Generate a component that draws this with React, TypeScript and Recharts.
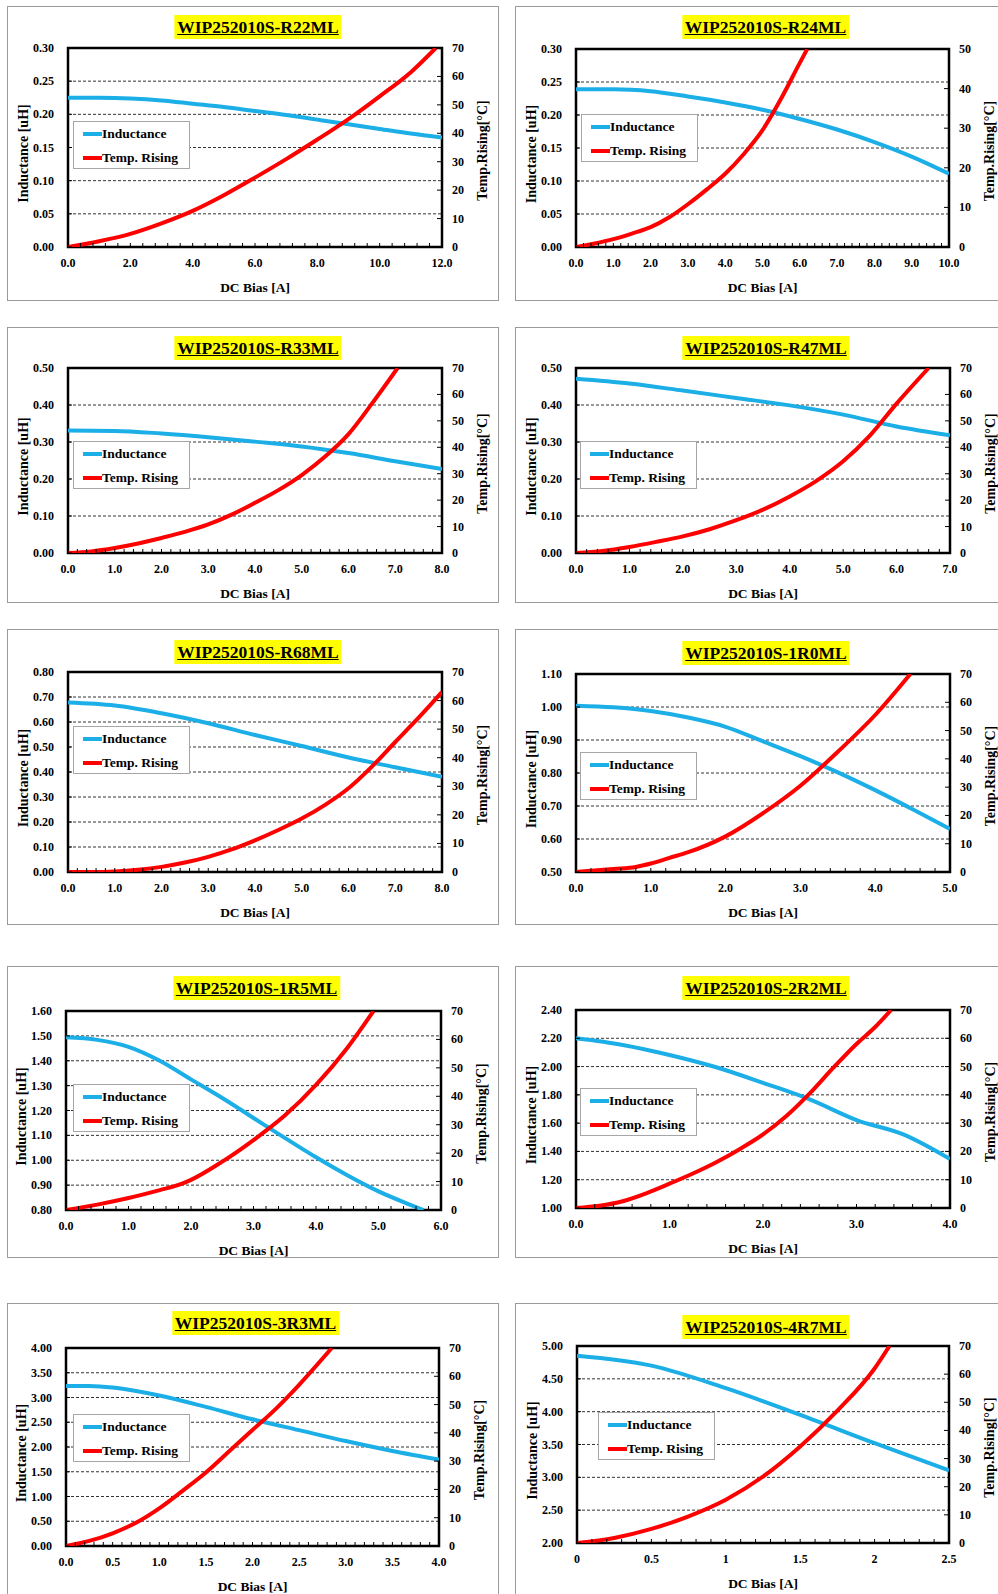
import React from "react";
import { LineChart, Line, XAxis, YAxis, CartesianGrid, ReferenceArea, Legend } from "recharts";

const BLUE = "#1caee6";
const RED = "#ff0000";
const FONT = '"Liberation Serif", "Times New Roman", serif';

// shared right-axis ticks
const temp70Ticks = [0, 10, 20, 30, 40, 50, 60, 70];
const temp50Ticks = [0, 10, 20, 30, 40, 50];

// WIP252010S-R22ML
const r22BiasTicks = [0, 2, 4, 6, 8, 10, 12];
const r22IndTicks = [0, 0.05, 0.1, 0.15, 0.2, 0.25, 0.3];
const r22IndBias = [0, 1, 2, 3, 4, 5, 6, 7, 8, 9, 10, 11, 12];
const r22Ind = [0.225, 0.225, 0.224, 0.221, 0.216, 0.211, 0.205, 0.199, 0.192, 0.185, 0.178, 0.171, 0.165];
const r22TempBias = [0, 1, 2, 3, 4, 5, 6, 7, 8, 9, 10, 11, 11.8];
const r22Temp = [0, 2, 4.6, 8.3, 12.7, 18.2, 24.4, 30.9, 37.8, 45, 53, 61.5, 70];

// WIP252010S-R24ML
const r24BiasTicks = [0, 1, 2, 3, 4, 5, 6, 7, 8, 9, 10];
const r24IndTicks = [0, 0.05, 0.1, 0.15, 0.2, 0.25, 0.3];
const r24IndBias = [0, 1, 2, 3, 4, 5, 6, 7, 8, 9, 10];
const r24Ind = [0.239, 0.239, 0.236, 0.228, 0.219, 0.208, 0.194, 0.178, 0.159, 0.137, 0.111];
const r24TempBias = [0, 0.5, 1, 1.5, 2, 2.5, 3, 3.5, 4, 4.5, 5, 5.5, 6, 6.2];
const r24Temp = [0, 0.9, 2, 3.4, 5, 7.5, 10.8, 14.5, 18.5, 23.5, 29.5, 37.5, 46.5, 50];

// WIP252010S-R33ML
const r33BiasTicks = [0, 1, 2, 3, 4, 5, 6, 7, 8];
const r33IndTicks = [0, 0.1, 0.2, 0.3, 0.4, 0.5];
const r33IndBias = [0, 1, 2, 3, 4, 5, 6, 7, 8];
const r33Ind = [0.331, 0.33, 0.323, 0.313, 0.301, 0.288, 0.27, 0.248, 0.227];
const r33TempBias = [0, 0.5, 1, 1.5, 2, 2.5, 3, 3.5, 4, 4.5, 5, 5.5, 6, 6.5, 7.05];
const r33Temp = [0, 0.6, 1.9, 3.6, 5.7, 8, 10.8, 14.5, 19, 23.8, 29.5, 36.5, 45, 56.5, 70];

// WIP252010S-R47ML
const r47BiasTicks = [0, 1, 2, 3, 4, 5, 6, 7];
const r47IndTicks = [0, 0.1, 0.2, 0.3, 0.4, 0.5];
const r47IndBias = [0, 1, 2, 3, 4, 5, 6, 7];
const r47Ind = [0.471, 0.458, 0.439, 0.419, 0.399, 0.374, 0.342, 0.318];
const r47TempBias = [0, 0.5, 1, 1.5, 2, 2.5, 3, 3.5, 4, 4.5, 5, 5.5, 6, 6.6];
const r47Temp = [0, 0.8, 2.3, 4.2, 6.3, 9, 12.4, 16.4, 21.4, 27.3, 34.7, 44.4, 56.5, 70];

// WIP252010S-R68ML
const r68BiasTicks = [0, 1, 2, 3, 4, 5, 6, 7, 8];
const r68IndTicks = [0, 0.1, 0.2, 0.3, 0.4, 0.5, 0.6, 0.7, 0.8];
const r68IndBias = [0, 1, 2, 3, 4, 5, 6, 7, 8];
const r68Ind = [0.678, 0.666, 0.635, 0.595, 0.548, 0.504, 0.458, 0.419, 0.381];
const r68TempBias = [0, 0.5, 1, 1.5, 2, 2.5, 3, 3.5, 4, 4.5, 5, 5.5, 6, 6.5, 7, 7.5, 8];
const r68Temp = [0, 0, 0.2, 0.8, 1.8, 3.3, 5.3, 7.9, 11.1, 14.7, 18.7, 23.5, 29.3, 36.9, 45.5, 54, 63];

// WIP252010S-1R0ML
const x1r0BiasTicks = [0, 1, 2, 3, 4, 5];
const x1r0IndTicks = [0.5, 0.6, 0.7, 0.8, 0.9, 1.0, 1.1];
const x1r0IndBias = [0, 0.5, 1, 1.5, 2, 2.5, 3, 3.5, 4, 4.5, 5];
const x1r0Ind = [1.004, 0.999, 0.988, 0.968, 0.94, 0.896, 0.851, 0.802, 0.748, 0.69, 0.63];
const x1r0TempBias = [0, 0.5, 0.8, 1, 1.25, 1.5, 2, 2.5, 3, 3.5, 4, 4.47];
const x1r0Temp = [0, 1.1, 1.8, 3, 5, 7, 12.6, 20.8, 30.5, 42.5, 55.5, 70];

// WIP252010S-1R5ML
const x1r5BiasTicks = [0, 1, 2, 3, 4, 5, 6];
const x1r5IndTicks = [0.8, 0.9, 1.0, 1.1, 1.2, 1.3, 1.4, 1.5, 1.6];
const x1r5IndBias = [0, 0.5, 1, 1.5, 2, 2.5, 3, 3.5, 4, 4.5, 5, 5.5, 5.72];
const x1r5Ind = [1.494, 1.484, 1.456, 1.4, 1.325, 1.25, 1.17, 1.09, 1.012, 0.94, 0.875, 0.822, 0.8];
const x1r5TempBias = [0, 0.5, 1, 1.5, 1.8, 2, 2.5, 3, 3.5, 4, 4.5, 4.92];
const x1r5Temp = [0, 1.9, 4.2, 7, 8.8, 10.6, 17, 24.6, 33.2, 44, 57, 70];

// WIP252010S-2R2ML
const x2r2BiasTicks = [0, 1, 2, 3, 4];
const x2r2IndTicks = [1.0, 1.2, 1.4, 1.6, 1.8, 2.0, 2.2, 2.4];
const x2r2IndBias = [0, 0.5, 1, 1.5, 2, 2.5, 3, 3.5, 4];
const x2r2Ind = [2.2, 2.153, 2.082, 1.995, 1.885, 1.768, 1.622, 1.52, 1.346];
const x2r2TempBias = [0, 0.25, 0.5, 0.75, 1, 1.25, 1.5, 1.75, 2, 2.25, 2.5, 2.75, 3, 3.2, 3.37];
const x2r2Temp = [0, 0.8, 2.4, 5.2, 8.6, 12.2, 16.2, 20.8, 26, 32.5, 40.5, 49.5, 58, 64, 70];

// WIP252010S-3R3ML
const x3r3BiasTicks = [0, 0.5, 1, 1.5, 2, 2.5, 3, 3.5, 4];
const x3r3IndTicks = [0, 0.5, 1, 1.5, 2, 2.5, 3, 3.5, 4];
const x3r3IndBias = [0, 0.25, 0.5, 0.75, 1, 1.5, 2, 2.5, 3, 3.5, 4];
const x3r3Ind = [3.234, 3.232, 3.2, 3.13, 3.04, 2.81, 2.56, 2.34, 2.12, 1.92, 1.748];
const x3r3TempBias = [0, 0.25, 0.5, 0.75, 1, 1.25, 1.5, 1.75, 2, 2.25, 2.5, 2.85];
const x3r3Temp = [0, 1.8, 4.5, 8.2, 13.3, 19.5, 26, 33.5, 41, 48.5, 57, 70];

// WIP252010S-4R7ML
const x4r7BiasTicks = [0, 0.5, 1, 1.5, 2, 2.5];
const x4r7IndTicks = [2, 2.5, 3, 3.5, 4, 4.5, 5];
const x4r7IndBias = [0, 0.5, 1, 1.5, 2, 2.5];
const x4r7Ind = [4.853, 4.701, 4.357, 3.951, 3.52, 3.105];
const x4r7TempBias = [0, 0.25, 0.5, 0.75, 1, 1.25, 1.5, 1.75, 2, 2.1];
const x4r7Temp = [0, 1.8, 5, 9.5, 15.4, 23.6, 34.3, 47, 62, 70];

const panels = [
  { title: "WIP252010S-R22ML", biasTicks: r22BiasTicks, indTicks: r22IndTicks, tempTicks: temp70Ticks, indBias: r22IndBias, ind: r22Ind, tempBias: r22TempBias, temp: r22Temp, xDigits: 1 },
  { title: "WIP252010S-R24ML", biasTicks: r24BiasTicks, indTicks: r24IndTicks, tempTicks: temp50Ticks, indBias: r24IndBias, ind: r24Ind, tempBias: r24TempBias, temp: r24Temp, xDigits: 1 },
  { title: "WIP252010S-R33ML", biasTicks: r33BiasTicks, indTicks: r33IndTicks, tempTicks: temp70Ticks, indBias: r33IndBias, ind: r33Ind, tempBias: r33TempBias, temp: r33Temp, xDigits: 1 },
  { title: "WIP252010S-R47ML", biasTicks: r47BiasTicks, indTicks: r47IndTicks, tempTicks: temp70Ticks, indBias: r47IndBias, ind: r47Ind, tempBias: r47TempBias, temp: r47Temp, xDigits: 1 },
  { title: "WIP252010S-R68ML", biasTicks: r68BiasTicks, indTicks: r68IndTicks, tempTicks: temp70Ticks, indBias: r68IndBias, ind: r68Ind, tempBias: r68TempBias, temp: r68Temp, xDigits: 1 },
  { title: "WIP252010S-1R0ML", biasTicks: x1r0BiasTicks, indTicks: x1r0IndTicks, tempTicks: temp70Ticks, indBias: x1r0IndBias, ind: x1r0Ind, tempBias: x1r0TempBias, temp: x1r0Temp, xDigits: 1 },
  { title: "WIP252010S-1R5ML", biasTicks: x1r5BiasTicks, indTicks: x1r5IndTicks, tempTicks: temp70Ticks, indBias: x1r5IndBias, ind: x1r5Ind, tempBias: x1r5TempBias, temp: x1r5Temp, xDigits: 1 },
  { title: "WIP252010S-2R2ML", biasTicks: x2r2BiasTicks, indTicks: x2r2IndTicks, tempTicks: temp70Ticks, indBias: x2r2IndBias, ind: x2r2Ind, tempBias: x2r2TempBias, temp: x2r2Temp, xDigits: 1 },
  { title: "WIP252010S-3R3ML", biasTicks: x3r3BiasTicks, indTicks: x3r3IndTicks, tempTicks: temp70Ticks, indBias: x3r3IndBias, ind: x3r3Ind, tempBias: x3r3TempBias, temp: x3r3Temp, xDigits: 1 },
  { title: "WIP252010S-4R7ML", biasTicks: x4r7BiasTicks, indTicks: x4r7IndTicks, tempTicks: temp70Ticks, indBias: x4r7IndBias, ind: x4r7Ind, tempBias: x4r7TempBias, temp: x4r7Temp, xDigits: null },
];

// page layout: outer frame, plot rectangle, legend offset inside plot, title centre
const layouts = [
  { frame: { x: 7, y: 6, w: 492, h: 295 }, plot: { x: 68, y: 48, w: 374, h: 199 }, legend: { dx: 5, dy: 73 }, titleY: 27 },
  { frame: { x: 515, y: 6, w: 500, h: 295 }, plot: { x: 576, y: 49, w: 373, h: 198 }, legend: { dx: 5, dy: 65 }, titleY: 27 },
  { frame: { x: 7, y: 327, w: 492, h: 276 }, plot: { x: 68, y: 368, w: 374, h: 185 }, legend: { dx: 5, dy: 73 }, titleY: 348 },
  { frame: { x: 515, y: 327, w: 500, h: 276 }, plot: { x: 576, y: 368, w: 374, h: 185 }, legend: { dx: 4, dy: 73 }, titleY: 348 },
  { frame: { x: 7, y: 629, w: 492, h: 296 }, plot: { x: 68, y: 672, w: 374, h: 200 }, legend: { dx: 5, dy: 54 }, titleY: 652 },
  { frame: { x: 515, y: 629, w: 500, h: 296 }, plot: { x: 576, y: 674, w: 374, h: 198 }, legend: { dx: 4, dy: 78 }, titleY: 653 },
  { frame: { x: 7, y: 966, w: 492, h: 292 }, plot: { x: 66, y: 1011, w: 375, h: 199 }, legend: { dx: 7, dy: 73 }, titleY: 988 },
  { frame: { x: 515, y: 966, w: 500, h: 292 }, plot: { x: 576, y: 1010, w: 374, h: 198 }, legend: { dx: 4, dy: 78 }, titleY: 988 },
  { frame: { x: 7, y: 1303, w: 492, h: 300 }, plot: { x: 66, y: 1348, w: 373, h: 198 }, legend: { dx: 7, dy: 66 }, titleY: 1323 },
  { frame: { x: 515, y: 1303, w: 500, h: 300 }, plot: { x: 577, y: 1346, w: 372, h: 197 }, legend: { dx: 21, dy: 66 }, titleY: 1327 },
];

const LEFT = 61; // chart-local x of plot left
const RIGHT = 60; // space right of plot
const TOP = 12;
const BOTTOM = 55;

function withMinor(major: number[], n: number) {
  const out: number[] = [];
  for (let i = 0; i < major.length - 1; i++) {
    const a = major[i];
    const b = major[i + 1];
    for (let k = 0; k < n; k++) out.push(+(a + ((b - a) * k) / n).toFixed(4));
  }
  out.push(major[major.length - 1]);
  return out;
}

const textStyle = { fontFamily: FONT, fontWeight: 700, fill: "#000" };

function LegendBox() {
  const row = (color: string, label: string, top: number) => (
    <div style={{ position: "absolute", left: 9, top: top - 9, height: 18, display: "flex", alignItems: "center" }}>
      <div style={{ width: 19, height: 4, background: color }} />
      <span style={{ fontFamily: FONT, fontWeight: 700, fontSize: 13.5, color: "#000", whiteSpace: "nowrap" }}>{label}</span>
    </div>
  );
  return (
    <div style={{ position: "relative", width: 117, height: 48, border: "1px solid #a6a6a6", background: "#fff", boxSizing: "border-box" }}>
      {row(BLUE, "Inductance", 12)}
      {row(RED, "Temp. Rising", 36)}
    </div>
  );
}

function Panel({ p, box }: any) {
  const { plot, frame, legend, titleY } = box;
  const W = plot.w + LEFT + RIGHT;
  const H = plot.h + TOP + BOTTOM;
  const indData = p.indBias.map((x: number, i: number) => ({ x, ind: p.ind[i] }));
  const tempData = p.tempBias.map((x: number, i: number) => ({ x, temp: p.temp[i] }));
  const xMin = p.biasTicks[0];
  const xMax = p.biasTicks[p.biasTicks.length - 1];
  const yMin = p.indTicks[0];
  const yMax = p.indTicks[p.indTicks.length - 1];
  const tMax = p.tempTicks[p.tempTicks.length - 1];
  const xTicks = withMinor(p.biasTicks, 5);
  const isMajor = (v: number) => p.biasTicks.some((m: number) => Math.abs(m - v) < 1e-6);
  const fmtX = (v: number) => (p.xDigits == null ? String(v) : v.toFixed(p.xDigits));

  const BottomTick = (props: any) => {
    const { x, y, payload } = props;
    return (
      <g>
        <line x1={x} x2={x} y1={y} y2={y - 4} stroke="#000" strokeWidth={1} />
        {isMajor(payload.value) && (
          <text x={x} y={y + 20} textAnchor="middle" fontSize={12} style={textStyle}>
            {fmtX(payload.value)}
          </text>
        )}
      </g>
    );
  };
  const LeftTick = (props: any) => {
    const { x, y, payload } = props;
    return (
      <g>
        <line x1={x + 14} x2={x + 18} y1={y} y2={y} stroke="#000" strokeWidth={1} />
        <text x={x} y={y + 4} textAnchor="end" fontSize={12} style={textStyle}>
          {payload.value.toFixed(2)}
        </text>
      </g>
    );
  };
  const RightTick = (props: any) => {
    const { x, y, payload } = props;
    return (
      <g>
        <line x1={x - 15} x2={x - 10} y1={y} y2={y} stroke="#000" strokeWidth={1} />
        <text x={x} y={y + 4} textAnchor="start" fontSize={12} style={textStyle}>
          {payload.value}
        </text>
      </g>
    );
  };

  const leftTitle = () => {
    const cx = LEFT - 45;
    const cy = TOP + plot.h / 2 + 6;
    return (
      <text x={cx} y={cy} transform={`rotate(-90 ${cx} ${cy})`} textAnchor="middle" dominantBaseline="central" fontSize={14} style={textStyle}>
        Inductance [uH]
      </text>
    );
  };
  const rightTitle = () => {
    const cx = LEFT + plot.w + 40;
    const cy = TOP + plot.h / 2 + 3;
    return (
      <text x={cx} y={cy} transform={`rotate(-90 ${cx} ${cy})`} textAnchor="middle" dominantBaseline="central" fontSize={14} style={textStyle}>
        Temp.Rising[°C]
      </text>
    );
  };
  const bottomTitle = () => (
    <text x={LEFT + plot.w / 2} y={TOP + plot.h + 45} textAnchor="middle" fontSize={13.5} style={textStyle}>
      DC Bias [A]
    </text>
  );

  return (
    <>
      <div
        style={{
          position: "absolute",
          left: frame.x,
          top: frame.y,
          width: frame.w,
          height: frame.h,
          border: "1px solid #9a9a9a",
          boxSizing: "border-box",
        }}
      />
      <div
        style={{
          position: "absolute",
          left: plot.x + plot.w / 2 + 3,
          top: titleY - 12,
          transform: "translateX(-50%)",
          background: "#ffff00",
          fontFamily: FONT,
          fontWeight: 700,
          fontSize: 17.5,
          lineHeight: "24px",
          padding: "0 3px",
          textDecoration: "underline",
          whiteSpace: "nowrap",
          color: "#000",
        }}
      >
        {p.title}
      </div>
      <div style={{ position: "absolute", left: plot.x - LEFT, top: plot.y - TOP, width: W, height: H }}>
        <LineChart width={W} height={H} margin={{ top: TOP, right: RIGHT - 45, bottom: BOTTOM - 30, left: LEFT - 45 }}>
          <CartesianGrid yAxisId="L" vertical={false} stroke="#333" strokeDasharray="3 2" />
          <XAxis
            dataKey="x"
            type="number"
            domain={[xMin, xMax]}
            allowDataOverflow
            ticks={xTicks}
            interval={0}
            height={30}
            axisLine={false}
            tickLine={false}
            tickSize={0}
            tickMargin={0}
            tick={<BottomTick />}
            label={{ content: bottomTitle }}
          />
          <YAxis
            yAxisId="L"
            type="number"
            domain={[yMin, yMax]}
            allowDataOverflow
            ticks={p.indTicks}
            interval={0}
            width={45}
            axisLine={false}
            tickLine={false}
            tickSize={0}
            tickMargin={14}
            tick={<LeftTick />}
            label={{ content: leftTitle }}
          />
          <YAxis
            yAxisId="R"
            orientation="right"
            type="number"
            domain={[0, tMax]}
            allowDataOverflow
            ticks={p.tempTicks}
            interval={0}
            width={45}
            axisLine={false}
            tickLine={false}
            tickSize={0}
            tickMargin={10}
            tick={<RightTick />}
            label={{ content: rightTitle }}
          />
          <Line
            yAxisId="L"
            data={indData}
            dataKey="ind"
            type="monotone"
            stroke={BLUE}
            strokeWidth={4}
            dot={false}
            isAnimationActive={false}
          />
          <Line
            yAxisId="R"
            data={tempData}
            dataKey="temp"
            type="monotone"
            stroke={RED}
            strokeWidth={4}
            dot={false}
            isAnimationActive={false}
          />
          <ReferenceArea
            yAxisId="L"
            x1={xMin}
            x2={xMax}
            y1={yMin}
            y2={yMax}
            fill="none"
            fillOpacity={0}
            stroke="#000"
            strokeWidth={2.5}
            ifOverflow="visible"
          />
          <Legend
            layout="horizontal"
            verticalAlign="middle"
            align="center"
            content={() => <LegendBox />}
            wrapperStyle={{ left: LEFT + legend.dx, top: TOP + legend.dy, width: 117, height: 48 }}
          />
        </LineChart>
      </div>
    </>
  );
}

export default function App() {
  return (
    <div
      style={{
        position: "absolute",
        left: 0,
        top: 0,
        width: 998,
        height: 1594,
        background: "#fff",
        overflow: "hidden",
      }}
    >
      {panels.map((p, i) => (
        <Panel key={p.title} p={p} box={layouts[i]} />
      ))}
    </div>
  );
}
